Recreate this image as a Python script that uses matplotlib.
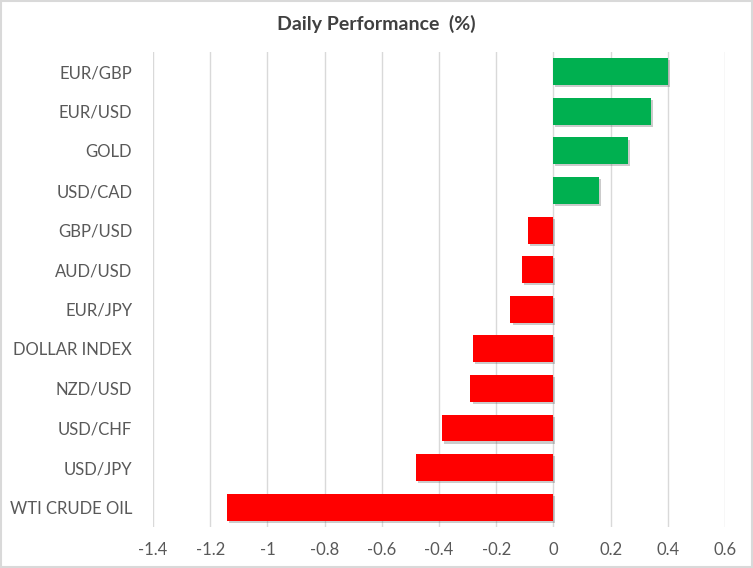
import matplotlib
matplotlib.use('Agg')
import matplotlib.pyplot as plt
import matplotlib.patheffects as pe

labels = ['EUR/GBP', 'EUR/USD', 'GOLD', 'USD/CAD', 'GBP/USD', 'AUD/USD',
          'EUR/JPY', 'DOLLAR INDEX', 'NZD/USD', 'USD/CHF', 'USD/JPY',
          'WTI CRUDE OIL']
values = [0.40, 0.34, 0.26, 0.16, -0.09, -0.11, -0.15, -0.28, -0.29,
          -0.39, -0.48, -1.14]
xticks = [-1.4, -1.2, -1, -0.8, -0.6, -0.4, -0.2, 0, 0.2, 0.4, 0.6]
xtick_labels = ['-1.4', '-1.2', '-1', '-0.8', '-0.6', '-0.4', '-0.2', '0',
                '0.2', '0.4', '0.6']

plt.rcParams['font.family'] = ['Lato', 'DejaVu Sans']

fig = plt.figure(figsize=(7.53, 5.68), dpi=100)
ax = fig.add_axes([0.2032, 0.0722, 0.7596, 0.8363])

colors = ['#00B050' if v > 0 else '#FF0000' for v in values]
ypos = list(range(len(labels)))
bars = ax.barh(ypos, values, height=0.68, color=colors, zorder=3)
for b in bars:
    b.set_path_effects([pe.SimplePatchShadow(offset=(1.5, -1.5), alpha=0.3,
                                             shadow_rgbFace='#555555'),
                        pe.Normal()])

ax.set_ylim(len(labels) - 0.5, -0.5)
ax.set_xlim(-1.4, 0.6)
ax.set_xticks(xticks)
ax.set_xticklabels(xtick_labels)
ax.set_yticks(ypos)
ax.set_yticklabels(labels)
ax.tick_params(axis='both', length=0, labelsize=12, colors='#595959')
ax.tick_params(axis='y', pad=15)
ax.tick_params(axis='x', pad=11)
ax.grid(axis='x', color='#d9d9d9', linewidth=1, zorder=0)
for s in ax.spines.values():
    s.set_visible(False)

fig.text(0.5, 0.958, 'Daily Performance  (%)', ha='center', va='center',
         fontsize=14, fontweight='bold', color='#404040')

border = plt.Rectangle((0.001, 0.001), 0.998, 0.998, transform=fig.transFigure,
                       fill=False, edgecolor='#d9d9d9', linewidth=1.5)
fig.patches.append(border)

fig.savefig('out.png', dpi=100)
